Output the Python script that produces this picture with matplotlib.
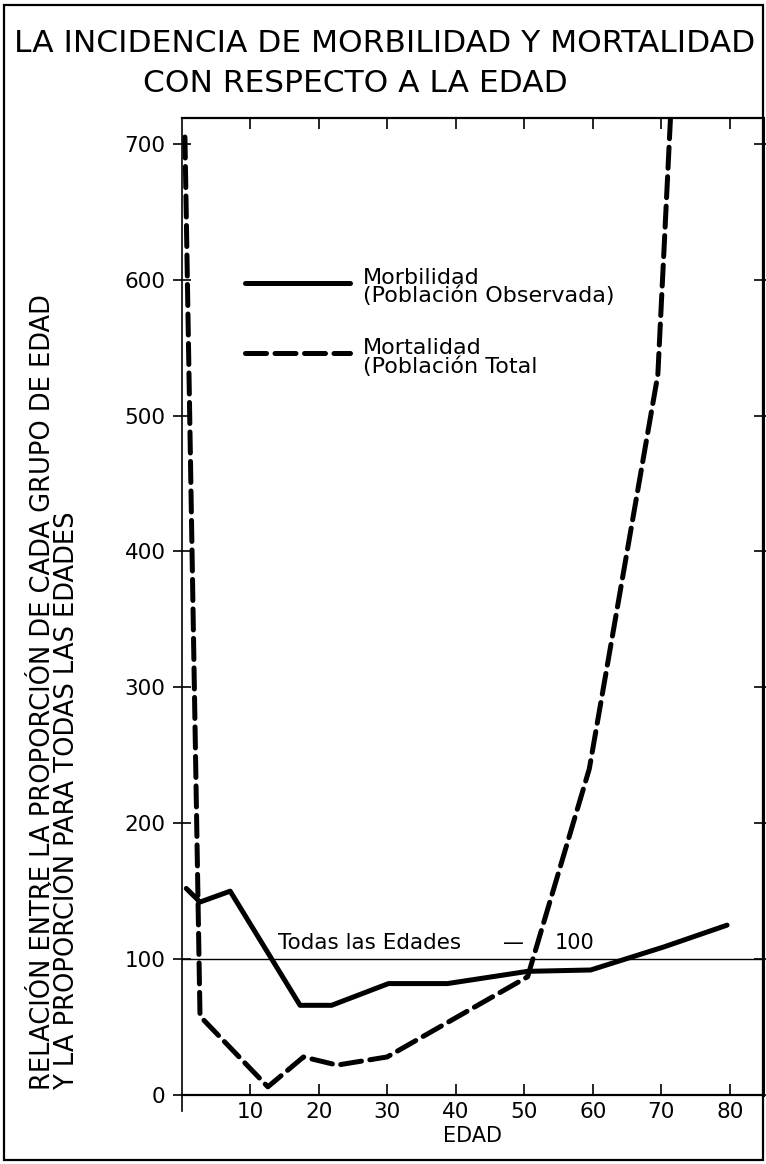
import matplotlib
matplotlib.use("Agg")
import matplotlib.pyplot as plt
from matplotlib.patches import Rectangle

# morbilidad (poblacion observada)
morb_edad = [0.7, 2.7, 7.1, 17.3, 21.9, 30.2, 38.8, 50.5, 59.7, 70.4, 79.6]
morb_val = [152, 142, 150, 66, 66, 82, 82, 91, 92, 109, 125]

# mortalidad (poblacion total)
mort_edad = [0.5, 2.7, 12.6, 17.8, 22.7, 30.0, 50.5, 59.5, 69.5, 71.5]
mort_val = [705, 58, 6, 28, 22, 28, 87, 240, 530, 735]

x_ticks = [10, 20, 30, 40, 50, 60, 70, 80]
y_ticks = [0, 100, 200, 300, 400, 500, 600, 700]
y_labels = ["0", "100", "200", "300", "400", "500", "600", "700"]
referencia = 100

plt.rcParams["font.family"] = ["DejaVu Sans"]

W, H = 766, 1164
fig = plt.figure(figsize=(W / 100, H / 100), dpi=100)

# caja de los ejes, en pixeles del dibujo original
x0, x1 = 181.5, 762.7
y0, y1 = 1095, 118
ax = fig.add_axes([x0 / W, 1 - y0 / H, (x1 - x0) / W, (y0 - y1) / H])
ax.set_xlim(0, 84.8)
ax.set_ylim(0, 719)

ax.plot(morb_edad, morb_val, color="black", lw=3.6, solid_capstyle="round",
        solid_joinstyle="round")
ax.plot(mort_edad, mort_val, color="black", lw=3.6, dashes=(4.2, 1.7),
        dash_capstyle="round")
ax.axhline(referencia, color="black", lw=1.0)

ax.text(14.1, 112, "Todas las Edades", fontsize=15.5, va="center", ha="left")
ax.text(46.9, 112, "\u2014", fontsize=15, va="center", ha="left")
ax.text(54.5, 112, "100", fontsize=15, va="center", ha="left")

# leyenda dibujada a mano
ax.plot([0.109, 0.290], [0.831, 0.831], transform=ax.transAxes, color="black",
        lw=3.6, solid_capstyle="round")
ax.plot([0.109, 0.290], [0.759, 0.759], transform=ax.transAxes, color="black",
        lw=3.6, dashes=(4.2, 1.7), dash_capstyle="round")
ax.text(0.312, 0.827, "Morbilidad\n(Poblaci\u00f3n Observada)", transform=ax.transAxes,
        fontsize=16, va="center", ha="left", linespacing=0.88)
ax.text(0.312, 0.755, "Mortalidad\n(Poblaci\u00f3n Total", transform=ax.transAxes,
        fontsize=16, va="center", ha="left", linespacing=0.88)

ax.set_xticks(x_ticks)
ax.set_xticklabels([str(v) for v in x_ticks])
ax.set_yticks(y_ticks)
ax.set_yticklabels(y_labels)
ax.tick_params(axis="y", direction="inout", length=13, width=1.2, labelsize=15.5, pad=5,
               right=True, labelright=False)
ax.tick_params(axis="x", direction="in", length=8, width=1.2, labelsize=15.5, pad=5,
               top=True, labeltop=False)
for s in ax.spines.values():
    s.set_linewidth(1.6)
ax.spines["right"].set_linewidth(2.2)
ax.spines["left"].set_linewidth(1.2)
ax.spines["left"].set_bounds(-12, 719)

ax.set_xlabel("EDAD", fontsize=15, labelpad=3)

fig.text(55 / W, 1 - 1090 / H,
         "RELACI\u00d3N ENTRE LA PROPORCI\u00d3N DE CADA GRUPO DE EDAD\n"
         "Y LA PROPORCI\u00d3N PARA TODAS LAS EDADES",
         rotation=90, rotation_mode="anchor", ha="left", va="center",
         fontsize=18.5, linespacing=0.95, multialignment="left")

fig.text(385 / W, 1 - 43 / H, "LA INCIDENCIA DE MORBILIDAD Y MORTALIDAD",
         ha="center", va="center", fontsize=22.5)
fig.text(355 / W, 1 - 84 / H, "CON RESPECTO A LA EDAD",
         ha="center", va="center", fontsize=22.5)

fig.patches.append(Rectangle((4 / W, 1 - 1160 / H), (763 - 4) / W, (1160 - 5) / H,
                             transform=fig.transFigure, fill=False, lw=1.6,
                             edgecolor="black"))

fig.savefig("out.png", dpi=100, facecolor="white")
